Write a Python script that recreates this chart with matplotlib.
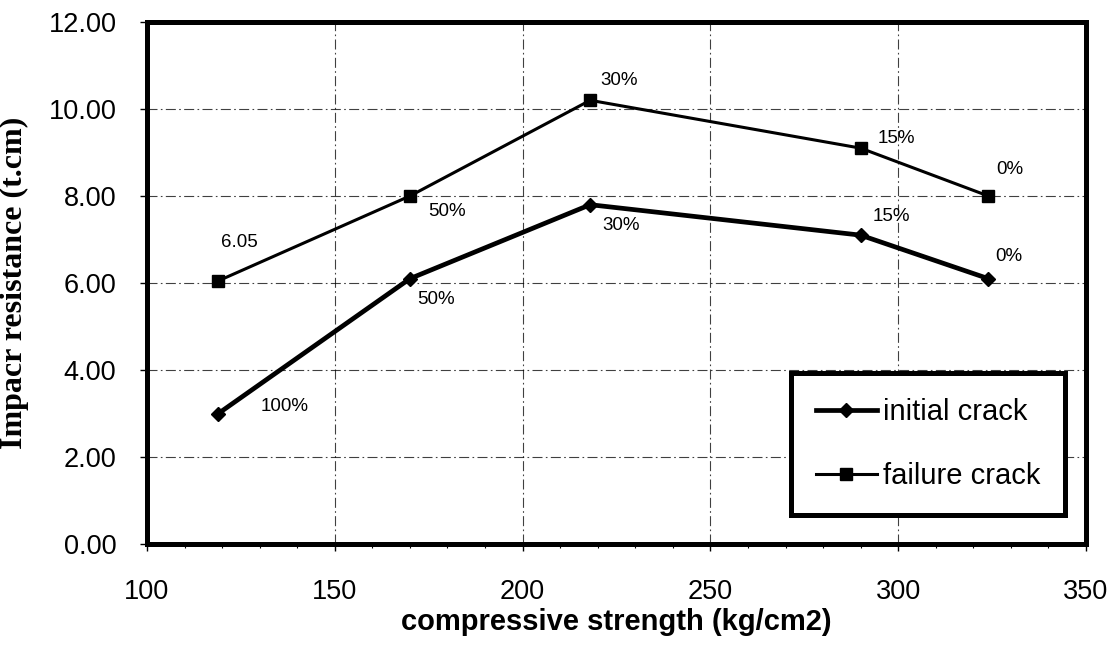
import matplotlib
matplotlib.use("Agg")
import matplotlib.pyplot as plt
from matplotlib.ticker import MultipleLocator, FormatStrFormatter

# ---- data ----
strength = [119, 170, 218, 290, 324]
initial_crack = [3.0, 6.1, 7.8, 7.1, 6.1]
failure_crack = [6.05, 8.0, 10.2, 9.1, 8.0]
initial_labels = ["100%", "50%", "30%", "15%", "0%"]
failure_labels = ["6.05", "50%", "30%", "15%", "0%"]
series_names = ["initial crack", "failure crack"]
x_ticks = [100, 150, 200, 250, 300, 350]
y_ticks = [0, 2, 4, 6, 8, 10, 12]

# label offsets (pixels, label centre relative to point)
initial_off = [(66, 7), (26, -21), (31, -21), (31, 19), (20, 22)]
failure_off = [(21, 38), (37, -16), (29, 20), (36, 10), (21, 26)]

plt.rcParams["font.family"] = ["Liberation Sans", "DejaVu Sans"]

fig = plt.figure(figsize=(11.2, 6.47), dpi=100)
ax = fig.add_axes([147 / 1120, 1 - 544 / 647, (1086 - 147) / 1120, (544 - 22) / 647])

l1, = ax.plot(strength, initial_crack, color="black", lw=3.4, marker="D", ms=7,
              label=series_names[0], zorder=3)
l2, = ax.plot(strength, failure_crack, color="black", lw=2.2, marker="s", ms=8.5,
              label=series_names[1], zorder=3)

for xs, ys, labs, offs in [(strength, initial_crack, initial_labels, initial_off),
                           (strength, failure_crack, failure_labels, failure_off)]:
    for x, y, t, (dx, dy) in zip(xs, ys, labs, offs):
        ax.annotate(t, (x, y), xytext=(dx, dy), textcoords="offset pixels",
                    ha="center", va="center", fontsize=13.5, color="black")

ax.set_xlim(100, 350)
ax.set_ylim(0, 12)
ax.set_xticks(x_ticks)
ax.set_yticks(y_ticks)
ax.xaxis.set_minor_locator(MultipleLocator(10))
ax.yaxis.set_major_formatter(FormatStrFormatter("%.2f"))
ax.tick_params(axis="both", which="major", direction="out", length=5, width=1,
               labelsize=19.5, colors="black")
ax.tick_params(axis="x", which="major", pad=20)
ax.tick_params(axis="y", which="major", pad=17)
ax.tick_params(axis="x", which="minor", direction="out", length=3, width=0.8)

ax.grid(True, which="major", color="black", lw=0.8, linestyle=(0, (9, 3, 1.5, 3)), alpha=0.75)
ax.set_axisbelow(True)
for s in ax.spines.values():
    s.set_linewidth(3.6)
    s.set_color("black")

ax.set_xlabel("compressive strength (kg/cm2)", fontsize=21, fontweight="bold", labelpad=2)
ax.set_ylabel("Impacr resistance (t.cm)", fontsize=23, fontweight="bold",
              family=["Liberation Serif", "DejaVu Serif"], labelpad=14)

leg = ax.legend(handles=[l1, l2], loc="lower right",
                bbox_to_anchor=((1065 - 147) / 939, (544 - 515) / 522),
                borderaxespad=0, fontsize=21, frameon=True, fancybox=False,
                edgecolor="black", handlelength=2.1, handletextpad=0.2,
                labelspacing=1.25, borderpad=0.85, numpoints=1)
leg.get_frame().set_linewidth(3.6)
leg.get_frame().set_facecolor("white")
leg.get_frame().set_alpha(1)

fig.savefig("out.png", dpi=100, facecolor="white")
